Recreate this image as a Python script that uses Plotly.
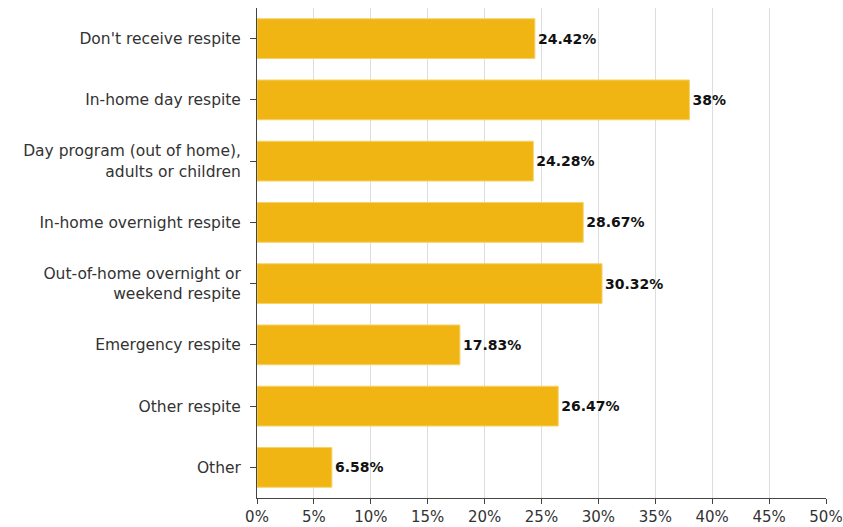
import plotly.graph_objects as go

categories = ["Don't receive respite", "In-home day respite",
              "Day program (out of home),<br>adults or children",
              "In-home overnight respite",
              "Out-of-home overnight or<br>weekend respite",
              "Emergency respite", "Other respite", "Other"]
values = [24.42, 38, 24.28, 28.67, 30.32, 17.83, 26.47, 6.58]
labels = ["24.42%", "38%", "24.28%", "28.67%", "30.32%", "17.83%", "26.47%", "6.58%"]
tick_vals = [0, 5, 10, 15, 20, 25, 30, 35, 40, 45, 50]
tick_text = [f"{v}%" for v in tick_vals]

FONT = "DejaVu Sans"

fig = go.Figure(go.Bar(
    y=categories, x=values, orientation="h",
    text=labels, textposition="outside", cliponaxis=False,
    textfont=dict(family=FONT, size=14, color="#111111", weight="bold"),
    marker=dict(color="#F0B513", line=dict(color="#F5D36A", width=1)),
))

fig.update_layout(
    width=843, height=527,
    margin=dict(l=257, r=17, t=8, b=29),
    paper_bgcolor="white", plot_bgcolor="white",
    bargap=0.35, showlegend=False,
    font=dict(family=FONT, size=15, color="#333333"),
)
fig.update_xaxes(
    range=[0, 50], tickvals=tick_vals, ticktext=tick_text,
    showgrid=True, gridcolor="#dddddd", gridwidth=1,
    showline=True, linecolor="#444444", linewidth=1,
    ticks="outside", ticklen=5, tickcolor="#444444",
    zeroline=False, tickfont=dict(size=15, color="#333333"),
    automargin=False,
)
fig.update_yaxes(
    autorange="reversed", showline=True, linecolor="#444444", linewidth=1,
    ticks="outside", ticklen=6, tickcolor="#444444",
    tickfont=dict(size=15.5, color="#333333"),
    automargin=False, ticklabelstandoff=6,
)

fig.write_html("out.html")
